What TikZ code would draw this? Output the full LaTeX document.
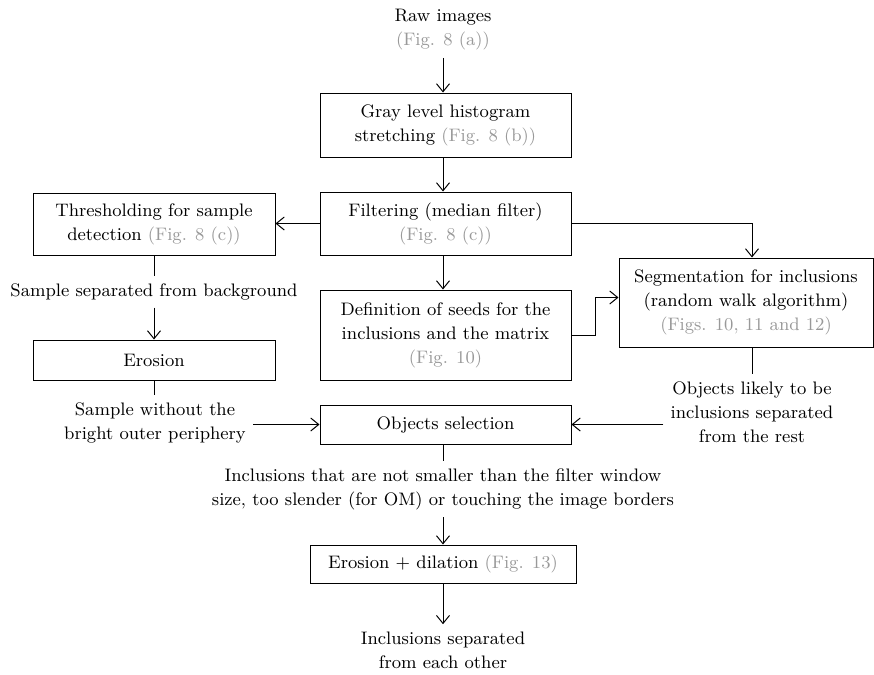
\documentclass[tikz,border=0pt]{standalone}
\usepackage{xcolor}
\usepackage{tikz}
\usetikzlibrary{shapes, arrows.meta, positioning}
\usetikzlibrary{calc}
\definecolor{figgray}{gray}{0.6}
\newcommand{\grayref}[1]{\textcolor{figgray}{#1}}

\begin{document}
\begin{tikzpicture}
  [
    x=0.5pt, y=-0.5pt,
    every node/.style={font=\fontsize{9.05pt}{12pt}\selectfont, align=center},
    Box/.style={rectangle, draw=black, line width=0.5pt, inner sep=2pt},
    Txt/.style={inner sep=3.5pt},
    Arr/.style={-{Straight Barb[length=4pt, width=6.5pt]}, line width=0.5pt},
    Ln/.style={line width=0.5pt}
  ]
  \useasboundingbox (0,0) rectangle (874,675);
  % Nodes
  \node[Txt] (raw) at (443, 30) {Raw images\\\grayref{(Fig. 8 (a))}};
  \node[Box, minimum width=125.5pt, minimum height=32pt] (hist) at (445.5, 125)
    {Gray level histogram\\stretching \grayref{(Fig. 8 (b))}};
  \node[Box, minimum width=125.5pt, minimum height=31.5pt] (filt) at (445.5, 223.5)
    {Filtering (median filter)\\\grayref{(Fig. 8 (c))}};
  \node[Box, minimum width=121pt, minimum height=31pt] (thr) at (154, 224)
    {Thresholding for sample\\detection \grayref{(Fig. 8 (c))}};
  \node[Txt] (sep) at (154, 292) {Sample separated from background};
  \node[Box, minimum width=121pt, minimum height=20pt] (ero) at (154, 360) {Erosion};
  \node[Txt] (wout) at (155, 423) {Sample without the\\bright outer periphery};
  \node[Box, minimum width=125.5pt, minimum height=45pt] (seeds) at (445.5, 335)
    {Definition of seeds for the\\inclusions and the matrix\\\grayref{(Fig. 10)}};
  \node[Box, minimum width=127pt, minimum height=44.5pt] (seg) at (746, 302.5)
    {Segmentation for inclusions\\(random walk algorithm)\\\grayref{(Figs. 10, 11 and 12)}};
  \node[Txt] (objtxt) at (752, 412) {Objects likely to be\\inclusions separated\\from the rest};
  \node[Box, minimum width=125.5pt, minimum height=19.5pt] (sel) at (445.5, 424.5) {Objects selection};
  \node[Txt] (incl) at (443, 489)
    {Inclusions that are not smaller than the filter window\\size, too slender (for OM) or touching the image borders};
  \node[Box, minimum width=133pt, minimum height=19pt] (dil) at (443, 564)
    {Erosion + dilation \grayref{(Fig. 13)}};
  \node[Txt] (final) at (443, 650) {Inclusions separated\\from each other};
  % Lines
  \draw[Arr] (raw) -- (hist.north -| raw.south);
  \draw[Arr] (hist.south -| raw.south) -- (filt.north -| raw.south);
  \draw[Arr] (filt.west) -- (filt.west -| thr.east);
  \draw[Ln] (thr) -- (sep);
  \draw[Arr] (sep) -- (ero);
  \draw[Ln] (ero) -- (wout.north -| ero.south);
  \draw[Arr] (wout.east |- sel.west) -- (sel.west);
  \draw[Arr] (filt.south -| raw.south) -- (seeds.north -| raw.south);
  \draw[Arr] (filt.east) -| ($(seg.north)+(6,0)$);
  \draw[Arr] (seeds.east) -- ++(24,0) |- ($(seg.west)+(0,-5)$);
  \draw[Ln] ($(seg.south)+(6,0)$) -- (objtxt.north);
  \draw[Arr] (objtxt.west |- sel.east) -- (sel.east);
  \draw[Ln] (sel.south -| incl.north) -- (incl.north);
  \draw[Arr] (incl) -- (dil);
  \draw[Arr] (dil) -- (final);
\end{tikzpicture}
\end{document}
